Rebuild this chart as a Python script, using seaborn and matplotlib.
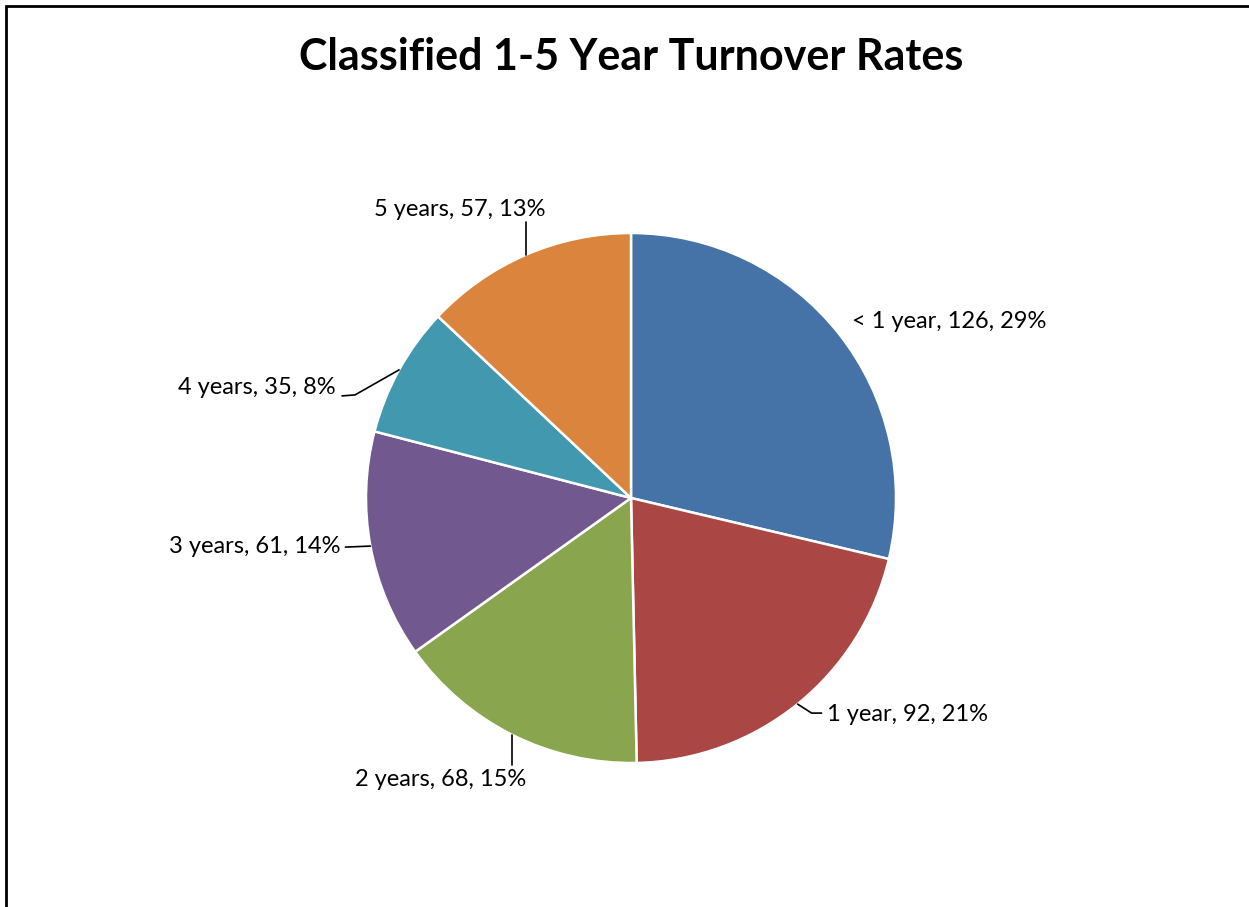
import matplotlib
matplotlib.use("Agg")
import matplotlib.pyplot as plt
import numpy as np
import seaborn as sns

# data
categories = ["< 1 year", "1 year", "2 years", "3 years", "4 years", "5 years"]
counts = [126, 92, 68, 61, 35, 57]
colors = ["#4572A7", "#AA4643", "#89A54E", "#71588F", "#4198AF", "#DB843D"]

sns.set_theme(style="white")
plt.rcParams['font.family'] = ['Lato', 'DejaVu Sans']

W, H = 1249, 907
fig = plt.figure(figsize=(W / 100, H / 100), dpi=100)

# frame around the chart area (cut off at right/bottom like the original)
fig.patches.append(plt.Rectangle((6 / W, -0.05), 1.2, (H - 6) / H + 0.05, transform=fig.transFigure,
                                 fill=False, edgecolor="black", linewidth=2))

fig.text(631 / W, 1 - 57 / H, "Classified 1-5 Year Turnover Rates", ha="center", va="center",
         fontsize=31, fontweight="bold", color="black")

# pie axes: centre (631, 498) px, radius 265 px
R = 265
cx, cy = 631, 498
ax = fig.add_axes([(cx - R) / W, (H - cy - R) / H, 2 * R / W, 2 * R / H])
wedges, _ = ax.pie(counts, colors=colors, startangle=90, counterclock=False, radius=1,
                   wedgeprops=dict(edgecolor="white", linewidth=1.8))
ax.set_xlim(-1, 1)
ax.set_ylim(-1, 1)
ax.set_aspect("equal")
ax.axis("off")

total = sum(counts)
pct = [round(100 * c / total) for c in counts]

# label layout: leader path offsets and text offsets in px (x right, y down) from the wedge edge
layout = [
    dict(path=[], text=(13, -12), ha="left"),
    dict(path=[(14, 9), (24, 9)], text=(29, 10), ha="left"),
    dict(path=[(0, 30)], text=(-72, 45), ha="center"),
    dict(path=[(-25, 1)], text=(-30, 0), ha="right"),
    dict(path=[(-44, 25), (-57, 26)], text=(-63, 18), ha="right"),
    dict(path=[(0, -33)], text=(-66, -45), ha="center"),
]

cum = np.cumsum([0] + counts)
for i, (cat, n, p) in enumerate(zip(categories, counts, pct)):
    mid = (cum[i] + cum[i + 1]) / 2 / total
    theta = np.deg2rad(90 - 360 * mid)
    ex, ey = np.cos(theta), np.sin(theta)
    lay = layout[i]
    pts = [(ex, ey)] + [(ex + dx / R, ey - dy / R) for dx, dy in lay["path"]]
    if len(pts) > 1:
        xs, ys = zip(*pts)
        ax.plot(xs, ys, color="black", linewidth=1.2, clip_on=False)
    tx, ty = lay["text"]
    ax.text(ex + tx / R, ey - ty / R, f"{cat}, {n}, {p}%", ha=lay["ha"], va="center",
            fontsize=17, color="black", clip_on=False)

plt.savefig("out.png", dpi=100)
plt.close()
